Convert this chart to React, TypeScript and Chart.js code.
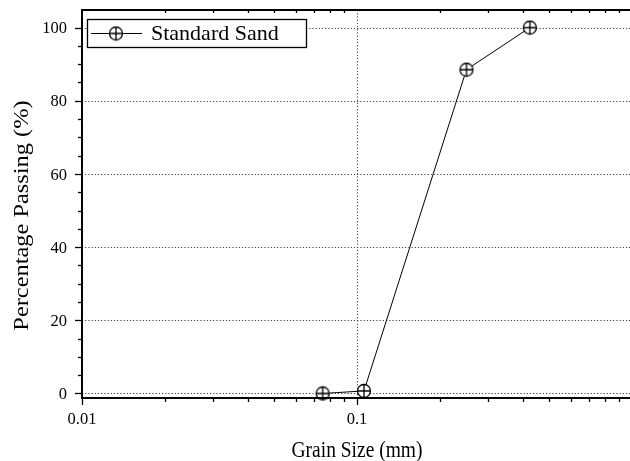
import React, { useEffect, useRef } from "react";
import { Chart, registerables } from "chart.js";

Chart.register(...registerables);

// ---- data ----
const grainSize: number[] = [0.075, 0.106, 0.25, 0.425];
const passing: number[] = [0, 0.7, 88.5, 100];
const seriesName = "Standard Sand";
const yTickValues: number[] = [0, 20, 40, 60, 80, 100];
const yTickLabels: string[] = ["0", "20", "40", "60", "80", "100"];
const xTickValues: number[] = [0.01, 0.1];
const xTickLabels: string[] = ["0.01", "0.1"];
const xMinorDecades: number[] = [0.01, 0.1];
const xTitle = "Grain Size (mm)";
const yTitle = "Percentage Passing (%)";

const FONT = "'Liberation Serif', 'Times New Roman', serif";

function makeMarker(): HTMLCanvasElement {
  const c = document.createElement("canvas");
  c.width = 16;
  c.height = 16;
  const g = c.getContext("2d")!;
  g.fillStyle = "#fff";
  g.strokeStyle = "#000";
  g.lineWidth = 1.3;
  g.beginPath();
  g.arc(8, 8, 6.5, 0, Math.PI * 2);
  g.fill();
  g.stroke();
  g.beginPath();
  g.moveTo(1.5, 8);
  g.lineTo(14.5, 8);
  g.moveTo(8, 1.5);
  g.lineTo(8, 14.5);
  g.stroke();
  return c;
}

export default function App() {
  const ref = useRef<HTMLCanvasElement | null>(null);

  useEffect(() => {
    if (!ref.current) return;
    const marker = makeMarker();

    const framePlugin = {
      id: "frame",
      beforeDatasetsDraw(chart: any) {
        const { ctx, chartArea: a, scales } = chart;
        const x = scales.x;
        const y = scales.y;
        ctx.save();
        ctx.strokeStyle = "#444";
        ctx.lineWidth = 1;
        ctx.setLineDash([1.2, 2]);
        for (const v of yTickValues) {
          const py = Math.round(y.getPixelForValue(v)) + 0.5;
          ctx.beginPath();
          ctx.moveTo(a.left, py);
          ctx.lineTo(a.right, py);
          ctx.stroke();
        }
        for (const v of xTickValues) {
          const px = Math.round(x.getPixelForValue(v)) + 0.5;
          if (px <= a.left + 2) continue;
          ctx.beginPath();
          ctx.moveTo(px, a.top);
          ctx.lineTo(px, a.bottom);
          ctx.stroke();
        }
        ctx.restore();
      },
      afterDatasetsDraw(chart: any) {
        const { ctx, chartArea: a, scales } = chart;
        const x = scales.x;
        const y = scales.y;
        ctx.save();
        ctx.strokeStyle = "#000";
        ctx.setLineDash([]);
        // borders
        ctx.lineWidth = 2;
        ctx.beginPath();
        ctx.moveTo(a.left, a.top - 1);
        ctx.lineTo(a.left, a.bottom + 1);
        ctx.moveTo(a.left - 1, a.bottom);
        ctx.lineTo(a.right, a.bottom);
        ctx.moveTo(a.left - 1, a.top);
        ctx.lineTo(a.right, a.top);
        ctx.stroke();
        // y ticks every 5
        ctx.lineWidth = 1.3;
        for (let v = 0; v <= 100; v += 5) {
          const py = Math.round(y.getPixelForValue(v)) + 0.5;
          const len = v % 20 === 0 ? 7 : 4;
          ctx.beginPath();
          ctx.moveTo(a.left, py);
          ctx.lineTo(a.left - len, py);
          ctx.stroke();
        }
        // x ticks
        for (const d of xMinorDecades) {
          for (let k = 1; k <= 9; k++) {
            const v = d * k;
            const px = Math.round(x.getPixelForValue(v)) + 0.5;
            if (px > a.right) continue;
            const len = k === 1 ? 7 : 4;
            ctx.beginPath();
            ctx.moveTo(px, a.bottom);
            ctx.lineTo(px, a.bottom + len);
            ctx.stroke();
            if (k !== 1) {
              ctx.beginPath();
              ctx.moveTo(px, a.top);
              ctx.lineTo(px, a.top + 3);
              ctx.stroke();
            }
          }
        }
        // tick labels
        ctx.fillStyle = "#000";
        ctx.font = `16.5px ${FONT}`;
        ctx.textBaseline = "alphabetic";
        ctx.textAlign = "right";
        yTickValues.forEach((v, i) => {
          const py = y.getPixelForValue(v);
          ctx.fillText(yTickLabels[i], a.left - 15, py + 5.6);
        });
        ctx.textAlign = "center";
        xTickValues.forEach((v, i) => {
          const px = x.getPixelForValue(v);
          ctx.fillText(xTickLabels[i], px, 423.5);
        });
        ctx.restore();
      },
      afterDraw(chart: any) {
        const { ctx, chartArea: a } = chart;
        ctx.save();
        // legend
        const lx = a.left + 5;
        const ly = a.top + 9;
        const lw = 219;
        const lh = 28;
        ctx.fillStyle = "#fff";
        ctx.fillRect(lx, ly, lw, lh);
        ctx.strokeStyle = "#000";
        ctx.lineWidth = 1.3;
        ctx.strokeRect(lx + 0.5, ly + 0.5, lw, lh);
        const cy = ly + lh / 2 + 0.5;
        ctx.lineWidth = 1;
        ctx.beginPath();
        ctx.moveTo(lx + 4, cy);
        ctx.lineTo(lx + 55, cy);
        ctx.stroke();
        ctx.drawImage(marker, lx + 29 - 8, cy - 8, 16, 16);
        ctx.fillStyle = "#000";
        ctx.font = `22px ${FONT}`;
        ctx.textAlign = "left";
        ctx.textBaseline = "middle";
        ctx.fillText(seriesName, lx + 64, cy + 1);

        // axis titles (vertically stretched like the reference)
        ctx.textAlign = "center";
        ctx.textBaseline = "alphabetic";
        ctx.save();
        ctx.translate((a.left + a.right) / 2 + 1, 457);
        ctx.scale(1, 1.22);
        ctx.font = `19.5px ${FONT}`;
        ctx.fillText(xTitle, 0, 0);
        ctx.restore();

        ctx.save();
        ctx.translate(27.5, 215.5);
        ctx.scale(1, 1.22);
        ctx.rotate(-Math.PI / 2);
        ctx.font = `20px ${FONT}`;
        ctx.fillText(yTitle, 0, 0);
        ctx.restore();

        ctx.restore();
      },
    };

    const chart = new Chart(ref.current, {
      type: "scatter",
      data: {
        datasets: [
          {
            label: seriesName,
            data: grainSize.map((g, i) => ({ x: g, y: passing[i] })),
            showLine: true,
            borderColor: "#000",
            borderWidth: 1,
            tension: 0,
            pointStyle: marker as any,
            pointRadius: 7,
            pointHoverRadius: 7,
            clip: false as any,
          },
        ],
      },
      options: {
        animation: false,
        responsive: true,
        maintainAspectRatio: false,
        layout: {
          autoPadding: false,
          padding: { top: 10, left: 0, right: 0, bottom: 0 },
        },
        plugins: {
          legend: { display: false },
          tooltip: { enabled: false },
        },
        scales: {
          x: {
            type: "logarithmic",
            min: 0.01,
            max: 0.983,
            border: { display: false },
            grid: { display: false, drawTicks: false, tickLength: 0 },
            afterBuildTicks: (scale: any) => {
              scale.ticks = xTickValues.map((v) => ({ value: v }));
            },
            afterFit: (scale: any) => {
              scale.height = 63;
            },
            ticks: { display: false },
          },
          y: {
            type: "linear",
            min: -1.23,
            max: 104.8,
            border: { display: false },
            grid: { display: false, drawTicks: false, tickLength: 0 },
            afterBuildTicks: (scale: any) => {
              scale.ticks = yTickValues.map((v) => ({ value: v }));
            },
            afterFit: (scale: any) => {
              scale.width = 82;
            },
            ticks: { display: false },
          },
        },
      },
      plugins: [framePlugin],
    });

    return () => chart.destroy();
  }, []);

  return (
    <div
      style={{
        position: "fixed",
        left: 0,
        top: 0,
        width: 630,
        height: 461,
        background: "#fff",
      }}
    >
      <canvas ref={ref} />
    </div>
  );
}
